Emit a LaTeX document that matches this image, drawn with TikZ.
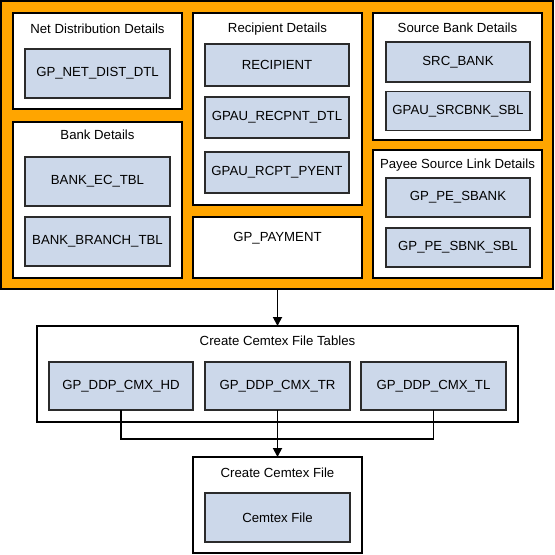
\documentclass[tikz,border=0pt]{standalone}
\usepackage{fontspec}
\setmainfont{Liberation Sans}
\usetikzlibrary{arrows.meta}
\definecolor{orng}{HTML}{FFA500}
\definecolor{tblue}{HTML}{CCD8EA}
\definecolor{edge}{HTML}{2B2B2B}
\begin{document}
\begin{tikzpicture}[x=1pt,y=-1pt,
  every node/.style={font=\fontsize{13.2}{15}\selectfont, inner sep=0pt, outer sep=0pt},
  frame/.style={draw=black, fill=white, line width=1.3pt},
  tbl/.style={draw=edge, fill=tblue, line width=1.8pt},
  ttl/.style={},
  conn/.style={draw=black, line width=1.8pt},
  arr/.style={conn, -{Triangle[length=9pt,width=9pt]}}]
\useasboundingbox (0,0) rectangle (555,555);
% outer orange
\node[draw=black, fill=orng, line width=1.5pt, minimum width=552pt, minimum height=288pt] (outer) at (277,145) {};
% Net distribution
\node[frame, minimum width=169pt, minimum height=96pt] (netbox) at (97.5,61) {};
\node[ttl] (nettitle) at (97.5,29) {Net Distribution Details};
\node[tbl, minimum width=145pt, minimum height=49pt] (netdist) at (97.5,73.5) {GP\_NET\_DIST\_DTL};
% Bank details
\node[frame, minimum width=169pt, minimum height=156pt] (bankbox) at (97.5,200) {};
\node[ttl] (banktitle) at (97.5,135) {Bank Details};
\node[tbl, minimum width=145pt, minimum height=49pt] (bankec) at (97.5,181.5) {BANK\_EC\_TBL};
\node[tbl, minimum width=145pt, minimum height=49pt] (bankbr) at (97.5,241.5) {BANK\_BRANCH\_TBL};
% Recipient
\node[frame, minimum width=169pt, minimum height=192pt] (recbox) at (277.5,109) {};
\node[ttl] (rectitle) at (277.5,29) {Recipient Details};
\node[tbl, minimum width=144pt, minimum height=42pt] (recip) at (277,65) {RECIPIENT};
\node[tbl, minimum width=144pt, minimum height=41pt] (recdtl) at (277,117.5) {GPAU\_RECPNT\_DTL};
\node[tbl, minimum width=144pt, minimum height=41pt] (rcpt) at (277,172.5) {GPAU\_RCPT\_PYENT};
% GP_PAYMENT
\node[frame, minimum width=169pt, minimum height=61pt] (paybox) at (277.5,247.5) {};
\node[ttl] (paytitle) at (277.5,238) {GP\_PAYMENT};
% Source bank
\node[frame, minimum width=169pt, minimum height=127pt] (srcbox) at (457.5,76.5) {};
\node[ttl] (srctitle) at (457.5,28) {Source Bank Details};
\node[tbl, minimum width=144pt, minimum height=40pt] (srcbank) at (458,62) {SRC\_BANK};
\node[tbl, minimum width=144pt, minimum height=39pt] (srcsbl) at (458,111) {GPAU\_SRCBNK\_SBL};
% Payee source link
\node[frame, minimum width=169pt, minimum height=128pt] (peebox) at (457.5,214) {};
\node[ttl] (peetitle) at (457.5,165) {Payee Source Link Details};
\node[tbl, minimum width=144pt, minimum height=39pt] (pesbank) at (458,197.5) {GP\_PE\_SBANK};
\node[tbl, minimum width=144pt, minimum height=39pt] (pesbl) at (458,247.5) {GP\_PE\_SBNK\_SBL};
% Create Cemtex File Tables
\node[frame, minimum width=481pt, minimum height=96pt] (tabbox) at (277.5,374) {};
\node[ttl] (tabtitle) at (277.5,341) {Create Cemtex File Tables};
\node[tbl, minimum width=144pt, minimum height=48pt] (hd) at (121,386) {GP\_DDP\_CMX\_HD};
\node[tbl, minimum width=145pt, minimum height=48pt] (tr) at (277.5,386) {GP\_DDP\_CMX\_TR};
\node[tbl, minimum width=145pt, minimum height=48pt] (tl) at (433.5,386) {GP\_DDP\_CMX\_TL};
% Create Cemtex File
\node[frame, minimum width=169pt, minimum height=96pt] (cembox) at (277.5,505) {};
\node[ttl] (cemtitle) at (277.5,473) {Create Cemtex File};
\node[tbl, minimum width=145pt, minimum height=49pt] (cemfile) at (277.5,517.5) {Cemtex File};
% connectors
\draw[arr] (outer.south -| tabbox.north) -- (tabbox.north);
\coordinate (jl) at (121,439);
\coordinate (jr) at (433.5,439);
\draw[conn] (hd.south) -- (jl) -- (jr) -- (tl.south);
\draw[arr] (tr.south) -- (cembox.north);
\end{tikzpicture}
\end{document}
